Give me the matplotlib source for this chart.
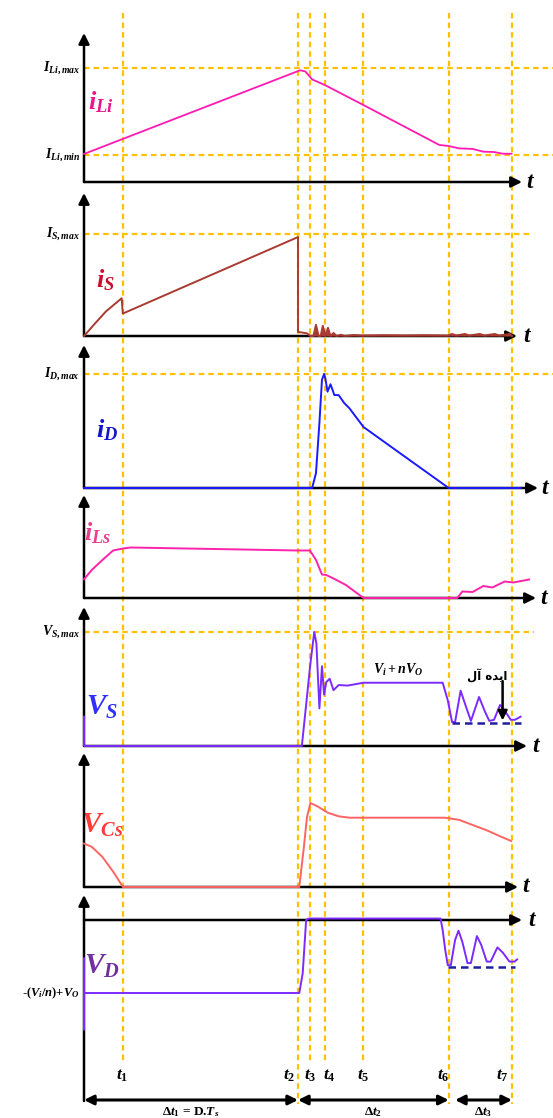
import matplotlib
matplotlib.use("Agg")
import matplotlib.pyplot as plt

plt.rcParams['font.family'] = ['Liberation Serif', 'DejaVu Sans']
plt.rcParams['mathtext.fontset'] = 'custom'
plt.rcParams['mathtext.it'] = 'Liberation Serif:italic:bold'
plt.rcParams['mathtext.rm'] = 'Liberation Serif:bold'
plt.rcParams['mathtext.bf'] = 'Liberation Serif:bold'

# switching instants t1..t7 (time units, t7 = 10)
t_marks = [0.90, 5.00, 5.29, 5.63, 6.53, 8.52, 10.00]
t_names = ['$t_1$', '$t_2$', '$t_3$', '$t_4$', '$t_5$', '$t_6$', '$t_7$']

# waveforms (normalised amplitudes)
iLi_t = [0, 5.05, 5.17, 5.33, 5.63, 6.53, 8.30, 8.52, 8.76, 9.08, 9.33, 9.58, 9.79, 9.99]
iLi_v = [0.246, 0.98, 0.97, 0.90, 0.85, 0.675, 0.325, 0.316, 0.295, 0.29, 0.266, 0.263, 0.248, 0.248]

iS_t = [0, 0.26, 0.51, 0.68, 0.88, 0.907, 5.0, 5.0, 5.21, 5.29, 5.36, 5.42, 5.48, 5.53, 5.58, 5.64,
        5.70, 5.76, 5.83, 5.90, 6.0, 6.1, 6.3, 6.5, 7.0, 7.5, 8.0, 8.5, 8.6, 8.7, 8.9, 9.0, 9.25, 9.35,
        9.6, 9.7, 9.95, 10.0]
iS_v = [0, 0.124, 0.24, 0.30, 0.37, 0.22, 0.97, 0.04, 0.026, 0, 0, 0.11, 0, 0, 0.10, 0,
        0.08, 0, 0.03, 0, 0.012, 0, 0.01, 0.005, 0.008, 0.006, 0.008, 0.005, 0.02, 0.005, 0.02, 0.005, 0.02, 0.005,
        0.02, 0.005, 0.02, 0.0]

iD_t = [0, 5.33, 5.42, 5.50, 5.56, 5.61, 5.64, 5.69, 5.76, 5.85, 5.95, 6.08, 6.20, 6.53, 8.52, 10.2]
iD_v = [0, 0, 0.13, 0.57, 0.95, 1.0, 0.96, 0.845, 0.91, 0.815, 0.815, 0.745, 0.70, 0.535, 0, 0]

iLs_t = [0, 0.18, 0.43, 0.68, 0.91, 1.09, 5.0, 5.28, 5.42, 5.56, 5.66, 5.83, 6.12, 6.53, 8.72,
         8.84, 9.08, 9.33, 9.54, 9.83, 10.03, 10.4]
iLs_v = [0.373, 0.56, 0.76, 0.95, 0.99, 1.01, 0.95, 0.95, 0.76, 0.47, 0.46, 0.39, 0.26, 0, 0,
         0.13, 0.12, 0.24, 0.21, 0.33, 0.31, 0.37]

VS_t = [0, 0, 5.09, 5.29, 5.38, 5.43, 5.50, 5.56, 5.61, 5.66, 5.74, 5.83, 5.95, 6.16, 6.53, 8.38,
        8.50, 8.60, 8.67, 8.80, 8.92, 9.04, 9.23, 9.37, 9.47, 9.58, 9.72, 9.82, 9.97, 10.07, 10.2]
VS_v = [0.257, 0, 0, 0.725, 1.0, 0.90, 0.33, 0.70, 0.45, 0.56, 0.59, 0.49, 0.535, 0.53, 0.555, 0.555,
        0.40, 0.21, 0.21, 0.485, 0.35, 0.22, 0.43, 0.30, 0.22, 0.23, 0.36, 0.315, 0.23, 0.23, 0.257]
VS_ideal = 0.204

VCs_t = [0, 0.18, 0.43, 0.68, 0.91, 5.03, 5.13, 5.21, 5.29, 5.46, 5.70, 5.95, 6.20, 8.43, 8.76,
         9.08, 9.41, 9.74, 9.98]
VCs_v = [0.62, 0.575, 0.43, 0.22, 0, 0, 0.53, 1.0, 1.2, 1.15, 1.06, 1.01, 0.99, 0.99, 0.96,
         0.886, 0.81, 0.72, 0.657]

VD_t = [0, 0, 0, 5.03, 5.11, 5.19, 5.25, 8.33, 8.38, 8.44, 8.50, 8.57, 8.67, 8.75, 8.84, 8.96,
        9.04, 9.18, 9.28, 9.41, 9.50, 9.66, 9.79, 9.94, 10.06, 10.12]
VD_v = [-0.525, -1.5, -1.0, -1.0, -0.73, 0.0, 0.02, 0.02, -0.137, -0.41, -0.62, -0.62, -0.274, -0.146,
        -0.3, -0.59, -0.59, -0.22, -0.34, -0.57, -0.57, -0.375, -0.45, -0.57, -0.57, -0.54]
VD_ideal = -0.64

W, H = 553, 1118
X0, PX = 84, 42.8          # pixel of t=0 and pixels per time unit
XLIM = (-X0 / PX, (W - X0) / PX)
ORANGE = '#FFC000'
NAVY = '#1F1F9F'


def tx(px):
    return (px - X0) / PX


fig = plt.figure(figsize=(W / 100, H / 100), dpi=100)
bg = fig.add_axes([0, 0, 1, 1])
bg.set_xlim(*XLIM)
bg.set_ylim(H, 0)
bg.axis('off')

# vertical dashed markers
for i, tm in enumerate(t_marks):
    yend = 1104 if i in (1, 5, 6) else 1063
    bg.plot([tm, tm], [13, yend], color=ORANGE, lw=1.6, ls=(0, (2.5, 1.8)), zorder=1)
    lx = {0: 0, 1: -0.2, 2: 0, 3: 0.09, 4: 0, 5: -0.12, 6: -0.22}[i]
    bg.text(tm + lx, 1076, t_names[i], ha='center', va='center', fontsize=12.5)

# panels: (y_top, y_axis, y_bottom, px per unit, arrow end px, 't' px)
panels = [
    (33, 182, 186, 114, 522, 531),
    (193, 336, 340, 102, 517, 528),
    (345, 488, 492, 114, 538, 546),
    (495, 598, 602, 50, 536, 545),
    (607, 746, 750, 114, 527, 537),
    (753, 887, 891, 70, 518, 527),
    (895, 920, 1101, 73, 522, 533),
]
axes = []
for (ytop, yax, ybot, unit, xarr, xt) in panels:
    ax = fig.add_axes([0, 1 - ybot / H, 1, (ybot - ytop) / H])
    ax.set_xlim(*XLIM)
    ax.set_ylim(-(ybot - yax) / unit, (yax - ytop) / unit)
    ax.axis('off')
    ax.patch.set_alpha(0)
    y0, y1 = ax.get_ylim()
    ax.annotate('', xy=(0, y1), xytext=(0, y0 if ybot - yax > 10 else 0),
                arrowprops=dict(arrowstyle='-|>', color='k', lw=1.8, mutation_scale=16,
                                shrinkA=0, shrinkB=0), zorder=2)
    ax.annotate('', xy=(tx(xarr), 0), xytext=(0, 0),
                arrowprops=dict(arrowstyle='-|>', color='k', lw=1.8, mutation_scale=16,
                                shrinkA=0, shrinkB=0), zorder=2)
    ax.text(tx(xt), 0, '$t$', fontsize=17, ha='center', va='center')
    axes.append(ax)

# reference levels
refs = [(0, 1.0, '$I_{Li,max}$', 553), (0, 0.237, '$I_{Li,min}$', 553),
        (1, 1.0, '$I_{S,max}$', 531), (2, 1.0, '$I_{D,max}$', 553), (4, 1.0, '$V_{S,max}$', 534)]
for k, lev, lab, xe in refs:
    axes[k].plot([0, tx(xe)], [lev, lev], color=ORANGE, lw=1.6, ls=(0, (2.5, 1.8)), zorder=1)
    axes[k].text(tx(80), lev, lab, ha='right', va='center', fontsize=10)
axes[6].text(tx(80), -1.0, r'-($V_i$/$n$)+$V_O$', ha='right', va='center', fontsize=9, fontweight='bold')

# waveforms
axes[0].plot(iLi_t, iLi_v, color='#FF1AB3', lw=1.3, zorder=3)
axes[1].plot(iS_t, iS_v, color='#A83A32', lw=1.4, zorder=3)
axes[1].fill_between(iS_t[9:], 0, iS_v[9:], color='#A83A32', lw=0, zorder=3)
axes[2].plot(iD_t, iD_v, color='#1A1AFF', lw=1.4, zorder=3)
axes[3].plot(iLs_t, iLs_v, color='#FF22AA', lw=1.4, zorder=3)
axes[4].plot(VS_t, VS_v, color='#7B2BFF', lw=1.4, zorder=3)
axes[4].plot([8.6, 10.2], [VS_ideal, VS_ideal], color=NAVY, lw=1.8, ls=(0, (3, 2)), zorder=3)
axes[5].plot(VCs_t, VCs_v, color='#FF6464', lw=1.4, zorder=3)
axes[6].plot(VD_t, VD_v, color='#7B2BFF', lw=1.4, zorder=3)
axes[6].plot([8.5, 10.07], [VD_ideal, VD_ideal], color=NAVY, lw=1.8, ls=(0, (3, 2)), zorder=3)

# annotations in VS panel
axes[4].text(tx(398), (746 - 670) / 114, '$V_i + nV_O$', ha='center', va='center', fontsize=10)
axes[4].text(tx(487), (746 - 676) / 114, '\uFEDD\uFE81 \uFEE9\uFEAA\uFEF3\uFE8D', ha='center',
             va='center', fontsize=8.5, family=['DejaVu Sans'], fontweight='bold')
axes[4].annotate('', xy=(tx(502.6), VS_ideal + 0.02), xytext=(tx(502.6), 0.57),
                 arrowprops=dict(arrowstyle='-|>', color='k', lw=1.8, mutation_scale=14,
                                 shrinkA=0, shrinkB=0), zorder=4)

# waveform names
names = [('$i_{Li}$', 101, 102, '#E8178F', 19), ('$i_S$', 105, 280, '#C8102E', 19),
         ('$i_D$', 107, 430, '#1515C8', 19), ('$i_{Ls}$', 98, 533, '#E8408F', 19),
         ('$V_S$', 102, 707, '#2F2FFF', 21), ('$V_{Cs}$', 102, 825, '#FF3B3B', 21),
         ('$V_D$', 102, 966, '#7030A0', 21)]
for lab, px, py, col, fs in names:
    bg.text(tx(px), py, lab, color=col, fontsize=fs, ha='center', va='center')

# interval arrows
spans = [(0, t_marks[1], r'Δ$t_1$ = D.$T_s$'), (t_marks[1], t_marks[5], r'Δ$t_2$'),
         (tx(455), t_marks[6], r'Δ$t_3$')]
for a, b, lab in spans:
    bg.annotate('', xy=(b, 1100), xytext=(a, 1100),
                arrowprops=dict(arrowstyle='<|-|>', color='k', lw=2.2, mutation_scale=14,
                                shrinkA=0, shrinkB=0))
    bg.text((a + b) / 2, 1112, lab, ha='center', va='center', fontsize=9.5, fontweight='bold')

fig.savefig('out.png', dpi=100)
